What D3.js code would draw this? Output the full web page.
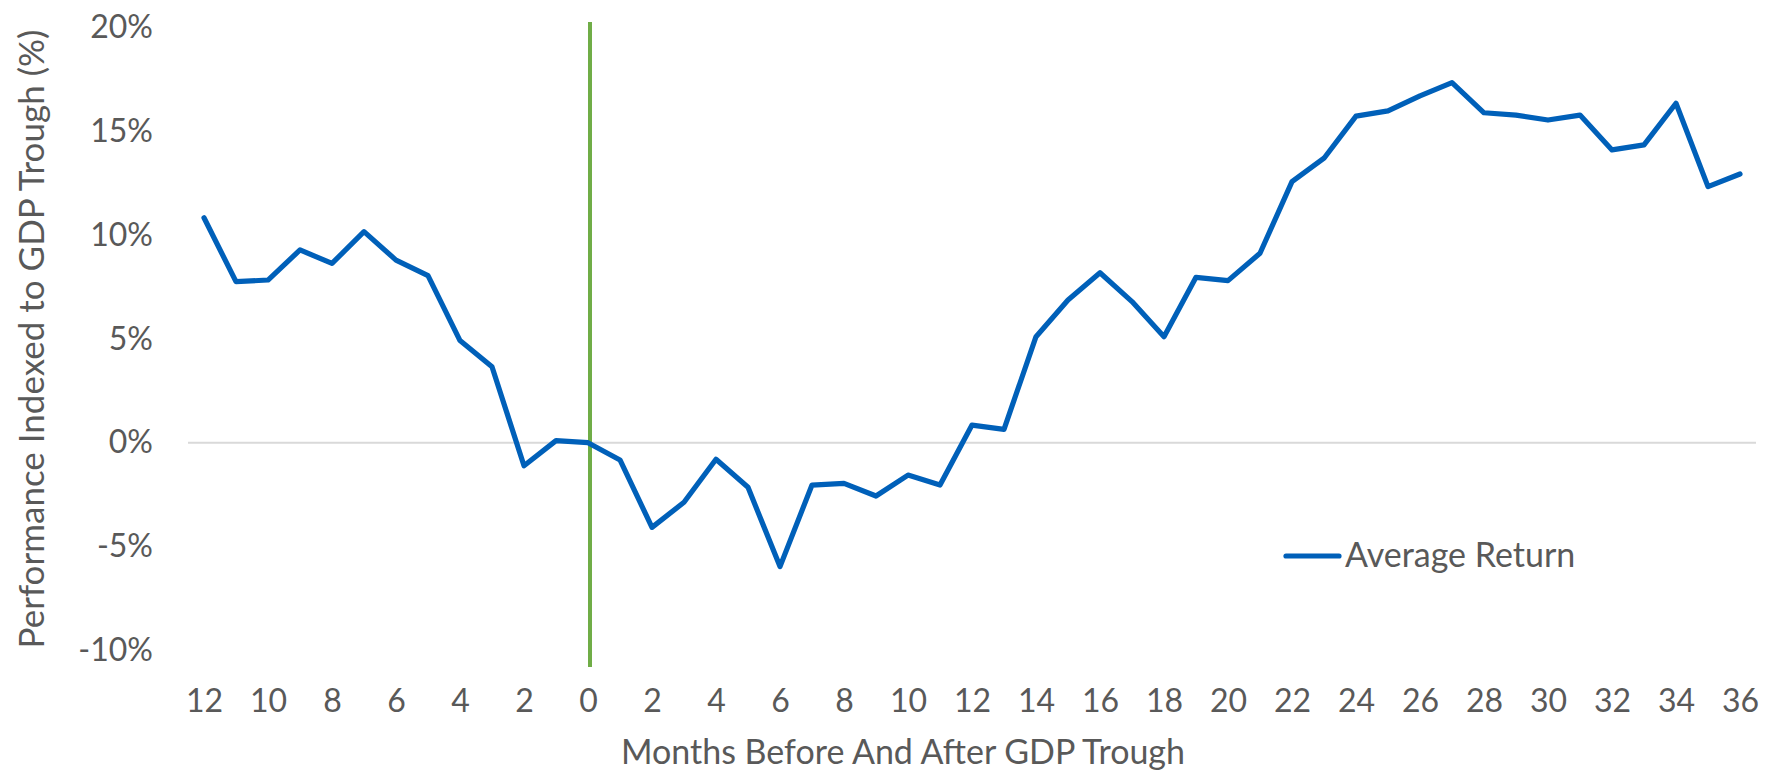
<!DOCTYPE html>
<html>
<head>
<meta charset="utf-8">
<script src="https://cdn.jsdelivr.net/npm/d3@7"></script>
<style>
  body { margin: 0; background: #fff; }
  text { font-family: Lato, "Open Sans", sans-serif; fill: #595959; }
</style>
</head>
<body>
<div id="graph"></div>
<script>
// months relative to the GDP trough
var months = d3.range(-12, 37);

// average return (%) for each month
var avgReturn = [
  10.84, 7.76, 7.84, 9.29, 8.64, 10.17, 8.80, 8.05, 4.92, 3.66,
  -1.11, 0.10, 0.00, -0.83, -4.08, -2.87, -0.80, -2.15, -5.97, -2.04,
  -1.96, -2.57, -1.56, -2.04, 0.85, 0.64, 5.11, 6.88, 8.19, 6.80,
  5.11, 7.97, 7.81, 9.13, 12.58, 13.71, 15.74, 15.99, 16.71, 17.35,
  15.90, 15.79, 15.55, 15.79, 14.11, 14.35, 16.36, 12.34, 12.95
];

var yTicks = [-10, -5, 0, 5, 10, 15, 20];
var xTicks = months.filter(function(m) { return m % 2 === 0; });
var troughMonth = 0;

var W = 1774, H = 771;
var plotLeft = 188, plotRight = 1756, plotTop = 22, plotBottom = 667;

var svg = d3.select("#graph")
  .append("svg")
    .attr("width", W)
    .attr("height", H);

// scales
var x = d3.scalePoint()
  .domain(months)
  .range([plotLeft, plotRight])
  .padding(0.5);

var y = d3.scaleLinear()
  .domain([-10, 20])
  .range([650.2, 27.7]);

// zero line
svg.append("line")
  .attr("x1", plotLeft).attr("x2", plotRight)
  .attr("y1", y(0)).attr("y2", y(0))
  .attr("stroke", "#d9d9d9")
  .attr("stroke-width", 2);

// y axis labels
var yAxis = svg.append("g")
  .attr("transform", "translate(153,0)")
  .call(d3.axisLeft(y)
    .tickValues(yTicks)
    .tickSize(0)
    .tickPadding(0)
    .tickFormat(function(d) { return d + "%"; }));
yAxis.select(".domain").remove();
yAxis.selectAll("text")
  .attr("font-size", 32)
  .attr("font-family", null)
  .attr("fill", "#595959");

// x axis labels
var xAxis = svg.append("g")
  .attr("transform", "translate(0,700)")
  .call(d3.axisBottom(x)
    .tickValues(xTicks)
    .tickSize(0)
    .tickFormat(function(d) { return Math.abs(d); }));
xAxis.select(".domain").remove();
xAxis.selectAll("text")
  .attr("y", 0)
  .attr("dy", "0.36em")
  .attr("font-size", 32)
  .attr("font-family", null)
  .attr("fill", "#595959");

// trough marker
svg.append("line")
  .attr("x1", x(troughMonth) + 2).attr("x2", x(troughMonth) + 2)
  .attr("y1", plotTop).attr("y2", plotBottom)
  .attr("stroke", "#70ad47")
  .attr("stroke-width", 4);

// the line
svg.append("path")
  .datum(avgReturn)
  .attr("fill", "none")
  .attr("stroke", "#0060b9")
  .attr("stroke-width", 5.2)
  .attr("stroke-linejoin", "round")
  .attr("stroke-linecap", "round")
  .attr("d", d3.line()
    .x(function(d, i) { return x(months[i]); })
    .y(function(d) { return y(d); }));

// axis titles
svg.append("text")
  .attr("transform", "translate(44,339) rotate(-90)")
  .attr("text-anchor", "middle")
  .attr("font-size", 35)
  .text("Performance Indexed to GDP Trough (%)");

svg.append("text")
  .attr("x", 903)
  .attr("y", 764)
  .attr("text-anchor", "middle")
  .attr("font-size", 34)
  .text("Months Before And After GDP Trough");

// legend
svg.append("line")
  .attr("x1", 1286).attr("x2", 1339)
  .attr("y1", 556).attr("y2", 556)
  .attr("stroke", "#0060b9")
  .attr("stroke-width", 5.2)
  .attr("stroke-linecap", "round");

svg.append("text")
  .attr("x", 1345)
  .attr("y", 567)
  .attr("font-size", 34)
  .text("Average Return");
</script>
</body>
</html>
